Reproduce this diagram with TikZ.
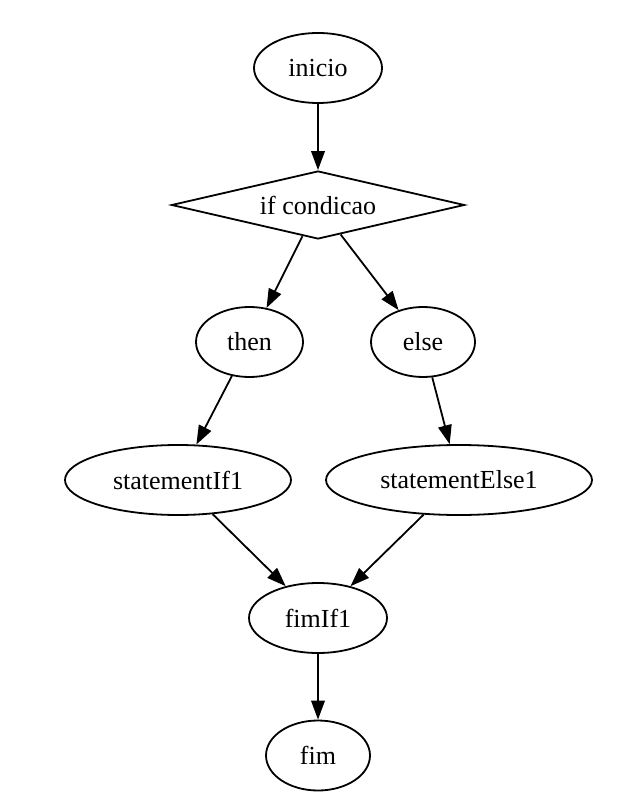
\documentclass[tikz,border=0pt]{standalone}
\usepackage{fontspec}
\setmainfont{Liberation Serif}
\usetikzlibrary{shapes.geometric}
\usetikzlibrary{arrows.meta}

\begin{document}
\begin{tikzpicture}[
        x=0.5pt, y=-0.5pt,
        % Standard style for the oval nodes of the flow
        state/.style={draw, ellipse, line width=0.9pt, inner sep=0pt,
        minimum height=35pt, font=\fontsize{13}{15}\selectfont},
        % Style for the decision node
        test/.style={draw, diamond, aspect=4.3, line width=0.9pt, inner sep=0pt,
        minimum width=146.5pt, minimum height=34pt, font=\fontsize{13}{15}\selectfont},
        % Style for the connectors
        flow/.style={-{Triangle[length=9.5pt, width=6.8pt]}, line width=0.9pt}
    ]
    \useasboundingbox (0,0) rectangle (627,806);

    % --- Start and decision ---
    \node[state, minimum width=64pt] (inicio) at (318,68) {inicio};
    \node[test] (cond) at (318,205) {if condicao};

    % --- Branches ---
    \node[state, minimum width=53.5pt] (then) at (249.5,342) {then};
    \node[state, minimum width=52pt] (else) at (423,342) {else};

    % --- Statements ---
    \node[state, minimum width=113pt] (stmtIf) at (178,480) {statementIf1};
    \node[state, minimum width=133pt] (stmtElse) at (459,480) {statementElse1};

    % --- End of the if and end ---
    \node[state, minimum width=69pt] (fimIf) at (318,618) {fimIf1};
    \node[state, minimum width=52pt] (fim) at (318,755.5) {fim};

    % --- Connectors ---
    \draw[flow] (inicio) -- (cond);
    \draw[flow] (cond) -- (then);
    \draw[flow] (cond) -- (else);
    \draw[flow] (then) -- (stmtIf);
    \draw[flow] (else) -- (stmtElse);
    \draw[flow] (stmtIf) -- (fimIf);
    \draw[flow] (stmtElse) -- (fimIf);
    \draw[flow] (fimIf) -- (fim);

\end{tikzpicture}
\end{document}
